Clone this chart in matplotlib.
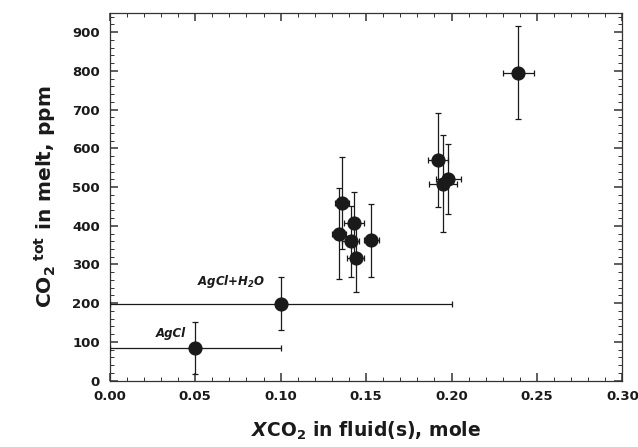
import numpy as np
import matplotlib
matplotlib.use('Agg')
import matplotlib.pyplot as plt
from matplotlib.ticker import MultipleLocator

# XCO2 in fluid vs total CO2 in melt
x_fluid = [0.050, 0.100, 0.134, 0.136, 0.143, 0.141, 0.144, 0.153,
           0.192, 0.195, 0.198, 0.239]
co2_melt = [85, 199, 380, 459, 407, 360, 317, 362, 569, 508, 521, 795]
x_err = [0.050, 0.100, 0.004, 0.004, 0.006, 0.005, 0.005, 0.0045,
         0.006, 0.008, 0.0074, 0.009]
co2_err = [67, 69, 117, 118, 81, 91, 88, 93, 121, 125, 90, 120]

labels = ['AgCl', 'AgCl+H$_\\mathbfit{2}$O']
label_xy = [(0.0355, 123), (0.0713, 255)]

plt.rcParams['font.family'] = 'DejaVu Sans'
plt.rcParams['font.weight'] = 'bold'
plt.rcParams['mathtext.fontset'] = 'dejavusans'

fig = plt.figure(figsize=(6.38, 4.47), dpi=100)
ax = fig.add_axes([0.172, 0.1483, 0.8037, 0.8233])

ax.errorbar(x_fluid, co2_melt, xerr=x_err, yerr=co2_err, fmt='o',
            color='#1a1a1a', ecolor='#1a1a1a', elinewidth=0.9,
            capsize=2.2, capthick=0.9, markersize=9.2, zorder=3)

for txt, (tx, ty) in zip(labels, label_xy):
    ax.text(tx, ty, txt, fontsize=8.5, fontweight='bold', style='italic',
            ha='center', va='center', color='#1a1a1a')

ax.set_xlim(0, 0.30)
ax.set_ylim(0, 950)
ax.xaxis.set_major_locator(MultipleLocator(0.05))
ax.xaxis.set_minor_locator(MultipleLocator(0.01))
ax.yaxis.set_major_locator(MultipleLocator(100))
ax.yaxis.set_minor_locator(MultipleLocator(20))
ax.set_xticks(np.arange(0, 0.301, 0.05))
ax.set_xticklabels(['%.2f' % v for v in np.arange(0, 0.301, 0.05)])
ax.set_yticks(np.arange(0, 901, 100))

ax.tick_params(which='both', direction='in', top=True, right=True,
               color='#333333')
ax.tick_params(which='major', length=5.8, width=1.1, labelsize=9.5, pad=7)
ax.tick_params(which='minor', length=2.6, width=0.7)
for lbl in ax.get_xticklabels() + ax.get_yticklabels():
    lbl.set_fontweight('bold')
    lbl.set_color('#1a1a1a')
for s in ax.spines.values():
    s.set_linewidth(0.9)
    s.set_color('#333333')

ax.set_xlabel('$\\mathbfit{X}$CO$_\\mathbf{2}$ in fluid(s), mole',
              fontsize=13.5, fontweight='bold', labelpad=11.5, color='#1a1a1a')
ax.set_ylabel('CO$_\\mathbf{2}$$^{\\ \\mathbf{tot}}$ in melt, ppm',
              fontsize=14.5, fontweight='bold', labelpad=10, color='#1a1a1a')

fig.savefig('out.png', dpi=100)
